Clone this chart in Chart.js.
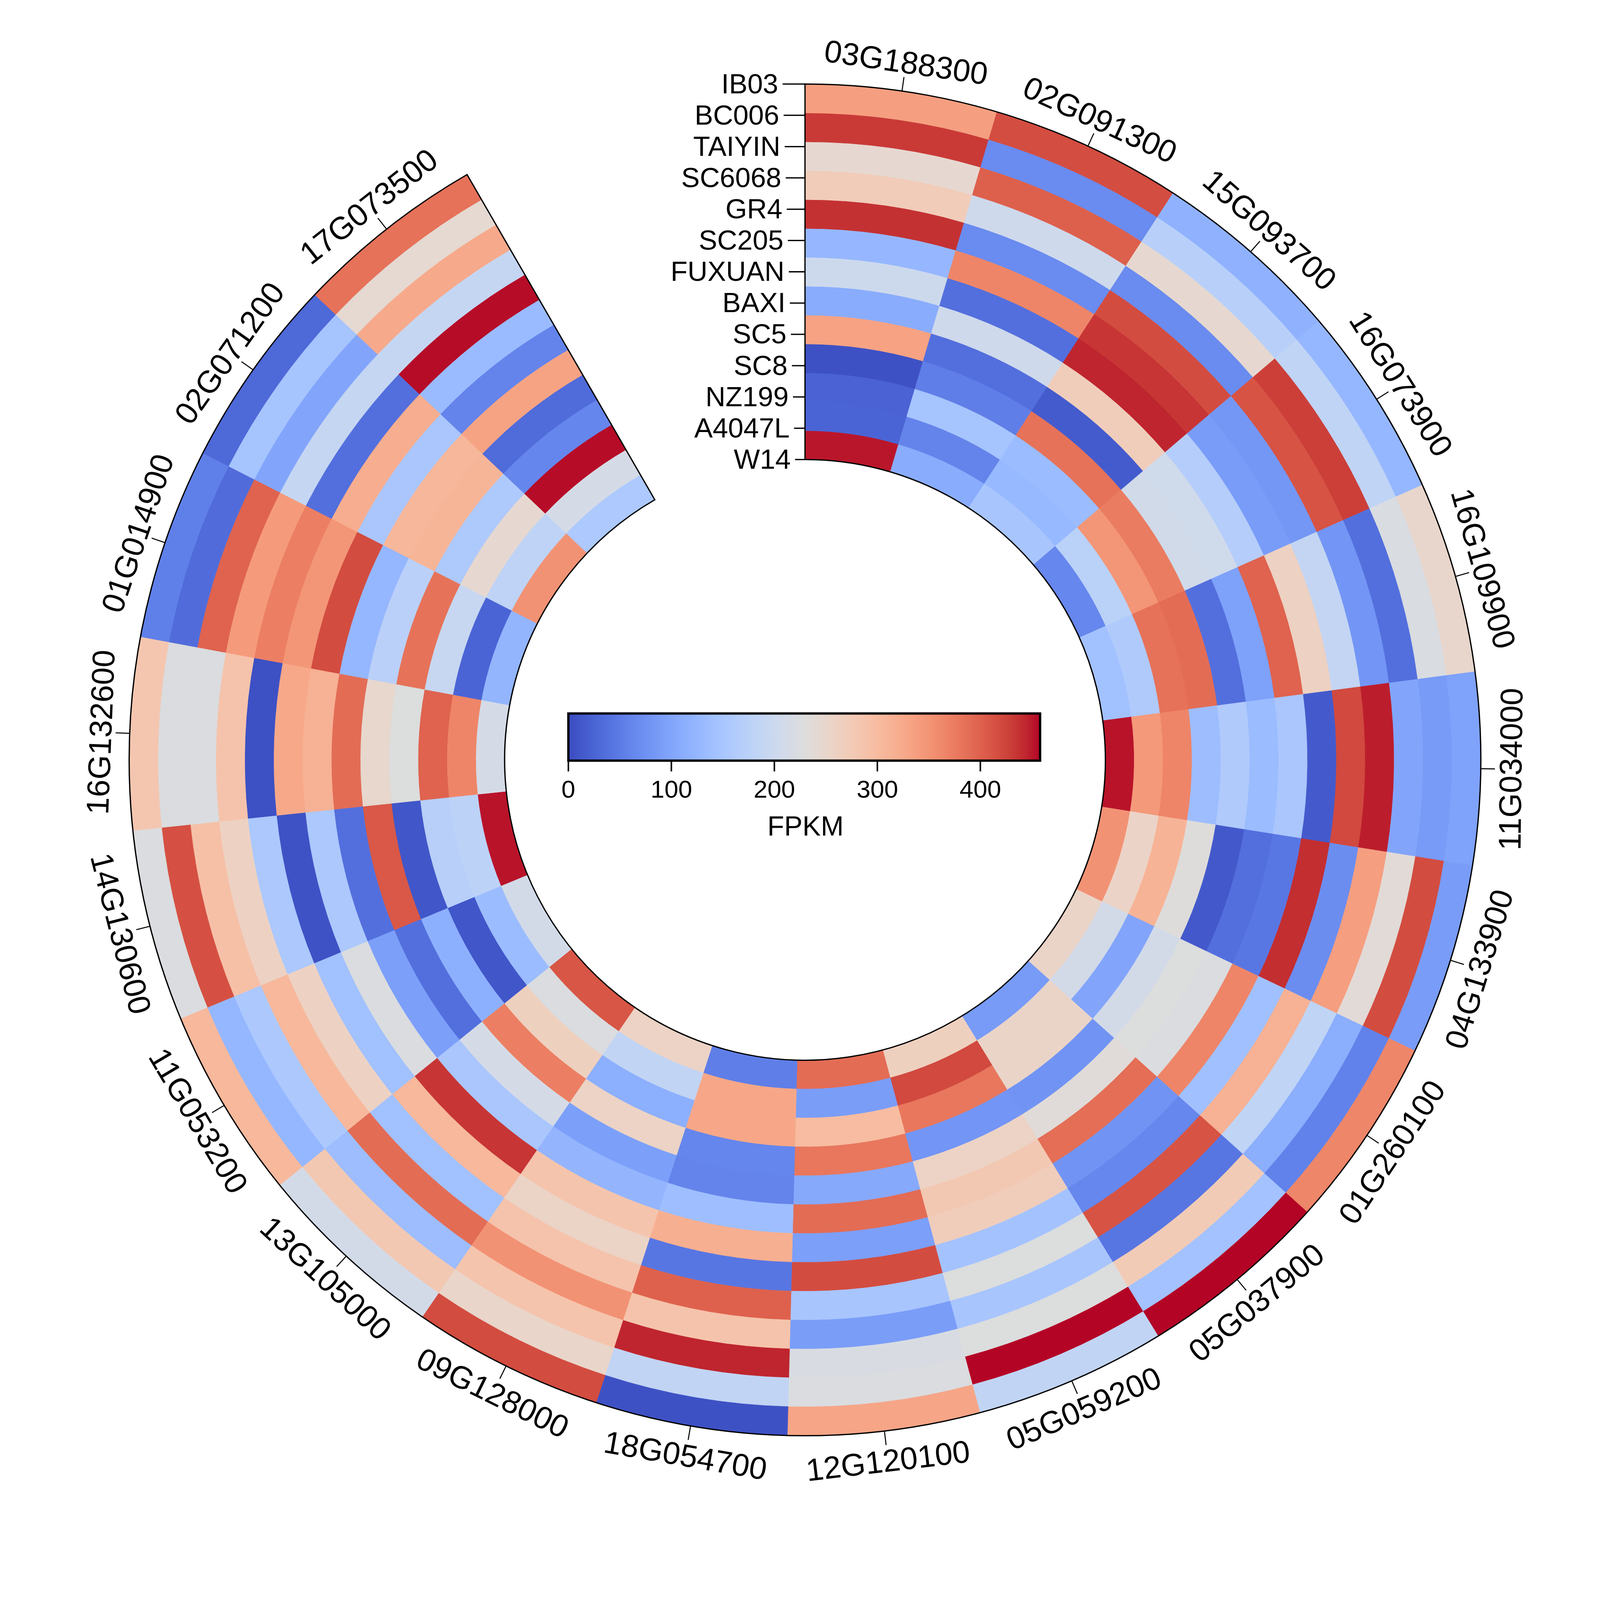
<!DOCTYPE html>
<html>
<head>
<meta charset="utf-8">
<script src="https://cdn.jsdelivr.net/npm/chart.js@4.4.1/dist/chart.umd.min.js"></script>
<style>
html,body{margin:0;padding:0;background:#ffffff;overflow:hidden;}
#wrap{position:relative;}
canvas{display:block;}
</style>
</head>
<body>
<div id="wrap"><canvas id="c"></canvas></div>
<script>
// ---- data ----
const genes = ['03G188300','02G091300','15G093700','16G073900','16G109900','11G034000','04G133900','01G260100','05G037900','05G059200','12G120100','18G054700','09G128000','13G105000','11G053200','14G130600','16G132600','01G014900','02G071200','17G073500'];
const samples = ['IB03','BC006','TAIYIN','SC6068','GR4','SC205','FUXUAN','BAXI','SC5','SC8','NZ199','A4047L','W14'];

const IB03   = [337,417,118,125,250, 96, 88,365,458,185,330,  5,418,210,305,225,283, 55, 30,385];
const BC006  = [432, 68,172,183,222, 87,418, 57,143,458,225,185,253,280,125,415,225, 33,147,243];
const TAIYIN = [245,401,245,428, 36,100,238,112,275,228,220,445,287,135,155,293,225,398,100,325];
const SC6068 = [272,204, 68,412, 80,448,338,183, 44,150, 90,288,352,390,305,260,288,342,190,190];
const GR4    = [438, 68,418, 82,188,420, 70,315,412,228,150,400,288,142,260,155,  4,372, 36,455];
const SC205  = [126,366,435, 88,262, 14,440,140, 63,145,418, 44,257,305,142,  6,327,348,320,132];
const FUXUAN = [201, 36,445,167,398,152, 45,366, 78,270, 92,318,287,435,225,155,315,418,152, 60];
const BAXI   = [110,204,270,205, 95,133, 37,226,388,280,390,137,123,152, 92, 36,390,125,307,333];
const SC5    = [334, 36, 15,208, 36,160, 13,228,235,258,105, 60, 93,215, 36,408,248,174,310, 32];
const SC8    = [  5, 53,385,375,390,135,232,210, 78, 80,380, 62,258,372,115, 10,228,384,158, 62];
const NZ199  = [ 23,147,133,348,385,366,312,100,255,380,300,328,113,265, 10,170,398,193,245,455];
const A4047L = [ 25, 60,128,175,160,344,256,210,255,420, 90,328,185,225,133,178,366, 25,180,215];
const W14    = [451,110,150, 63,142,452,352,255, 87,265,390, 53,258,410,210,452,215,122,352,157];

const sampleValues = [IB03,BC006,TAIYIN,SC6068,GR4,SC205,FUXUAN,BAXI,SC5,SC8,NZ199,A4047L,W14];
const colorbarTicks = [0,100,200,300,400];
const colorbarTitle = 'FPKM';
const vmin = 0, vmax = 458;

// matplotlib coolwarm
const CW = [
[0.0,0.2298057,0.298717966,0.753683153],[0.03125,0.26623388,0.353094838,0.801466763],
[0.0625,0.30386891,0.406535296,0.84495867],[0.09375,0.342804478,0.458757618,0.883725899],
[0.125,0.38301334,0.50941904,0.917387822],[0.15625,0.424369608,0.558148092,0.945619588],
[0.1875,0.46666708,0.604562568,0.968154911],[0.21875,0.509635204,0.648280772,0.98478814],
[0.25,0.552953156,0.688929332,0.995375608],[0.28125,0.596262162,0.726149107,0.999836203],
[0.3125,0.639176211,0.759599947,0.998151185],[0.34375,0.681291281,0.788964712,0.990363227],
[0.375,0.722193294,0.813952739,0.976574709],[0.40625,0.761464949,0.834302879,0.956945269],
[0.4375,0.798691636,0.849786142,0.931688648],[0.46875,0.833466556,0.860207984,0.901068838],
[0.5,0.865395197,0.86541021,0.865395561],[0.53125,0.897787179,0.848937047,0.820880546],
[0.5625,0.924127593,0.827384882,0.774508472],[0.59375,0.944468518,0.800927443,0.726736146],
[0.625,0.958852946,0.769767752,0.678007945],[0.65625,0.96732803,0.734132809,0.628751763],
[0.6875,0.969954137,0.694266682,0.579375448],[0.71875,0.966811177,0.650421156,0.530263762],
[0.75,0.958003065,0.602842431,0.481775914],[0.78125,0.943660866,0.551750968,0.434243684],
[0.8125,0.923944917,0.49730856,0.387970225],[0.84375,0.89904617,0.439559467,0.343229596],
[0.875,0.869186849,0.378313092,0.300267182],[0.90625,0.834620542,0.312874446,0.259301199],
[0.9375,0.795631745,0.24128379,0.220525627],[0.96875,0.752534934,0.157246067,0.184115123],
[1.0,0.705673158,0.01555616,0.150232812]];

function cwAt(t){
  t = Math.max(0, Math.min(1, t));
  for (let i = 1; i < CW.length; i++) {
    if (t <= CW[i][0]) {
      const a = CW[i-1], b = CW[i];
      const f = (t - a[0]) / (b[0] - a[0]);
      const c = [1,2,3].map(k => Math.round(255 * (a[k] + (b[k]-a[k]) * f)));
      return 'rgb(' + c.join(',') + ')';
    }
  }
  const l = CW[CW.length-1];
  return 'rgb(' + [1,2,3].map(k => Math.round(255*l[k])).join(',') + ')';
}
function coolwarm(v){ return cwAt((v - vmin) / (vmax - vmin)); }

const FONT = "'Liberation Sans', Arial, Helvetica, sans-serif";

// ---- fit the 6241 x 5941 design into the actual viewport ----
const W = window.innerWidth || 6241, H = window.innerHeight || 5941;
const K = Math.min(W / 6241, H / 5941);
const canvas = document.getElementById('c');
canvas.style.width = W + 'px';
canvas.style.height = H + 'px';
canvas.width = W; canvas.height = H;
document.getElementById('wrap').style.width = W + 'px';
document.getElementById('wrap').style.height = H + 'px';

const datasets = samples.map((s, i) => {
  const cols = sampleValues[i].map(coolwarm);
  return {
    label: s,
    data: genes.map(() => 1),
    backgroundColor: cols,
    borderColor: cols,
    borderWidth: 1,
    hoverOffset: 0
  };
});

const decorPlugin = {
  id: 'decor',
  afterDatasetsDraw(chart) {
    const ctx = chart.ctx;
    const m0 = chart.getDatasetMeta(0).data;
    const mL = chart.getDatasetMeta(samples.length - 1).data;
    const cx = m0[0].x, cy = m0[0].y;
    const R = m0[0].outerRadius, r = mL[0].innerRadius;
    const start = m0[0].startAngle, end = m0[m0.length-1].endAngle;
    ctx.save();
    // outline
    ctx.beginPath();
    ctx.arc(cx, cy, R, start, end);
    ctx.arc(cx, cy, r, end, start, true);
    ctx.closePath();
    ctx.lineWidth = 5 * K;
    ctx.strokeStyle = '#000';
    ctx.lineJoin = 'miter';
    ctx.stroke();

    // gene ticks & labels
    ctx.fillStyle = '#000';
    ctx.font = (123 * K) + 'px ' + FONT;
    ctx.textAlign = 'center';
    ctx.textBaseline = 'alphabetic';
    const tickLen = 55 * K, gap = 16 * K, capH = 88 * K;
    m0.forEach((el, j) => {
      const mid = (el.startAngle + el.endAngle) / 2;
      ctx.beginPath();
      ctx.moveTo(cx + R * Math.cos(mid), cy + R * Math.sin(mid));
      ctx.lineTo(cx + (R + tickLen) * Math.cos(mid), cy + (R + tickLen) * Math.sin(mid));
      ctx.lineWidth = 4 * K;
      ctx.stroke();
      let deg = (mid + Math.PI / 2) * 180 / Math.PI;
      deg = ((deg % 360) + 360) % 360;
      const rr = R + tickLen + gap;
      ctx.save();
      ctx.translate(cx + rr * Math.cos(mid), cy + rr * Math.sin(mid));
      if (deg > 90 && deg < 270) {
        ctx.rotate(mid - Math.PI / 2);
        ctx.fillText(genes[j], 0, capH);
      } else {
        ctx.rotate(mid + Math.PI / 2);
        ctx.fillText(genes[j], 0, 0);
      }
      ctx.restore();
    });

    // sample ticks & labels
    ctx.font = (108 * K) + 'px ' + FONT;
    ctx.textAlign = 'right';
    ctx.textBaseline = 'middle';
    const slant = Math.sin(1.9 * Math.PI / 180);
    samples.forEach((s, i) => {
      const ri = R - i * (R - r) / (samples.length - 1);
      const y = cy - ri;
      const x1 = cx - ri * slant;
      ctx.beginPath();
      ctx.moveTo(cx, y);
      ctx.lineTo(x1, y);
      ctx.lineWidth = 5 * K;
      ctx.stroke();
      ctx.fillText(s, x1 - 17 * K, y + 6 * K);
    });

    // colorbar
    const bx0 = cx - 923 * K, bx1 = cx + 917 * K, by0 = cy - 181 * K, by1 = cy + 3 * K;
    const grad = ctx.createLinearGradient(bx0, 0, bx1, 0);
    CW.forEach(c => grad.addColorStop(c[0], 'rgb(' + [1,2,3].map(k => Math.round(255*c[k])).join(',') + ')'));
    ctx.fillStyle = grad;
    ctx.fillRect(bx0, by0, bx1 - bx0, by1 - by0);
    ctx.lineWidth = 9 * K;
    ctx.strokeStyle = '#000';
    ctx.strokeRect(bx0, by0, bx1 - bx0, by1 - by0);
    ctx.fillStyle = '#000';
    ctx.font = (97 * K) + 'px ' + FONT;
    ctx.textAlign = 'center';
    ctx.textBaseline = 'middle';
    colorbarTicks.forEach(v => {
      const x = bx0 + (v - vmin) / (vmax - vmin) * (bx1 - bx0);
      ctx.beginPath();
      ctx.moveTo(x, by1 + 4 * K);
      ctx.lineTo(x, by1 + 42 * K);
      ctx.lineWidth = 6 * K;
      ctx.stroke();
      ctx.fillText(String(v), x, by1 + 118 * K);
    });
    ctx.font = (107 * K) + 'px ' + FONT;
    ctx.fillText(colorbarTitle, cx + 2 * K, by1 + 262 * K);
    ctx.restore();
  }
};

new Chart(canvas, {
  type: 'doughnut',
  data: { labels: genes, datasets: datasets },
  options: {
    responsive: false,
    animation: false,
    events: [],
    rotation: 0,
    circumference: 330,
    cutout: '44.44%',
    layout: { padding: { left: 503 * K, top: 327 * K, right: W - 5777 * K, bottom: H - 5601 * K } },
    plugins: { legend: { display: false }, tooltip: { enabled: false }, title: { display: false } }
  },
  plugins: [decorPlugin]
});
</script>
</body>
</html>
